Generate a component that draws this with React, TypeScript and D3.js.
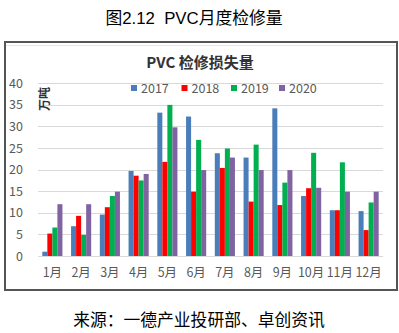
import React from "react";
import * as d3 from "d3";

const months = ["1月", "2月", "3月", "4月", "5月", "6月", "7月", "8月", "9月", "10月", "11月", "12月"];
const years = ["2017", "2018", "2019", "2020"];
const v2017 = [1.0, 6.9, 9.6, 19.7, 33.2, 32.3, 23.8, 22.8, 34.2, 13.9, 10.6, 10.4];
const v2018 = [5.2, 9.3, 11.3, 18.6, 21.8, 14.9, 20.4, 12.6, 11.8, 15.7, 10.6, 6.0];
const v2019 = [6.6, 4.9, 13.9, 17.5, 35.0, 26.9, 24.9, 25.8, 17.0, 23.9, 21.7, 12.4];
const v2020 = [12.0, 12.0, 14.9, 19.0, 29.8, 19.9, 22.8, 19.9, 19.9, 15.8, 14.9, 14.9];
const yTicks = [0, 5, 10, 15, 20, 25, 30, 35, 40];
const colors = ["#4A7EBB", "#FF0000", "#00B050", "#8064A2"];

const series = [v2017, v2018, v2019, v2020];

export default function App() {
  const W = 399, H = 333;
  const y = d3.scaleLinear().domain([0, 40]).range([256, 83.3]);
  const x0 = d3.scaleBand<string>().domain(months).range([38, 383]).padding(0);
  const bw = x0.bandwidth();
  const x1 = d3.scaleBand<string>().domain(years).range([bw * 0.15, bw * 0.85]).padding(0);
  const font = "'Liberation Sans', 'Noto Sans CJK SC', sans-serif";
  const cjk = "'Noto Sans CJK SC', 'Liberation Sans', sans-serif";
  const legendX = [131, 181.5, 231, 279];

  return (
    <svg width={W} height={H} style={{ position: "absolute", left: 0, top: 0, background: "#fff" }}>
      <rect x={0} y={0} width={W} height={H} fill="#fff" />
      <text x={194} y={24} textAnchor="middle" fontSize={16.8} fontFamily={font} fill="#000" style={{ whiteSpace: "pre" }}>
        {"图2.12  PVC月度检修量"}
      </text>
      {/* chart frame */}
      <rect x={5} y={42} width={392} height={248} fill="#fff" stroke="#555" strokeWidth={2} />
      <line x1={6} x2={396} y1={45.5} y2={45.5} stroke="#e6e6e6" strokeWidth={1} />
      {/* gridlines */}
      {yTicks.map((t) => (
        <line key={t} x1={38} x2={383} y1={Math.round(y(t)) + 0.5} y2={Math.round(y(t)) + 0.5} stroke="#D9D9D9" strokeWidth={1} />
      ))}
      {yTicks.map((t) => (
        <text key={"l" + t} x={23} y={y(t) + 4.5} textAnchor="end" fontSize={12.5} fontFamily={cjk} fill="#595959">
          {t}
        </text>
      ))}
      {/* bars */}
      {series.map((vals, si) =>
        vals.map((v, mi) => (
          <rect
            key={si + "-" + mi}
            x={(x0(months[mi]) as number) + (x1(years[si]) as number)}
            y={y(v)}
            width={x1.bandwidth()}
            height={y(0) - y(v)}
            fill={colors[si]}
          />
        ))
      )}
      {months.map((m) => (
        <text key={m} x={(x0(m) as number) + bw / 2} y={277} textAnchor="middle" fontSize={12.5} fontFamily={cjk} fill="#595959">
          {m}
        </text>
      ))}
      {/* chart title */}
      <text x={200} y={68} textAnchor="middle" fontSize={15} fontWeight="bold" fontFamily={cjk} fill="#333">
        PVC 检修损失量
      </text>
      {/* legend */}
      {years.map((yr, i) => (
        <g key={yr}>
          <rect x={legendX[i]} y={85} width={6} height={6} fill={colors[i]} />
          <text x={legendX[i] + 10} y={92.5} fontSize={12.5} fontFamily={cjk} fill="#595959">
            {yr}
          </text>
        </g>
      ))}
      {/* y label */}
      <text transform="translate(49,99) rotate(-90)" textAnchor="middle" fontSize={12} fontWeight="bold" fontFamily={cjk} fill="#333">
        万吨
      </text>
      <text x={199} y={326} textAnchor="middle" fontSize={16.8} fontFamily={cjk} fill="#000">
        来源：一德产业投研部、卓创资讯
      </text>
    </svg>
  );
}
